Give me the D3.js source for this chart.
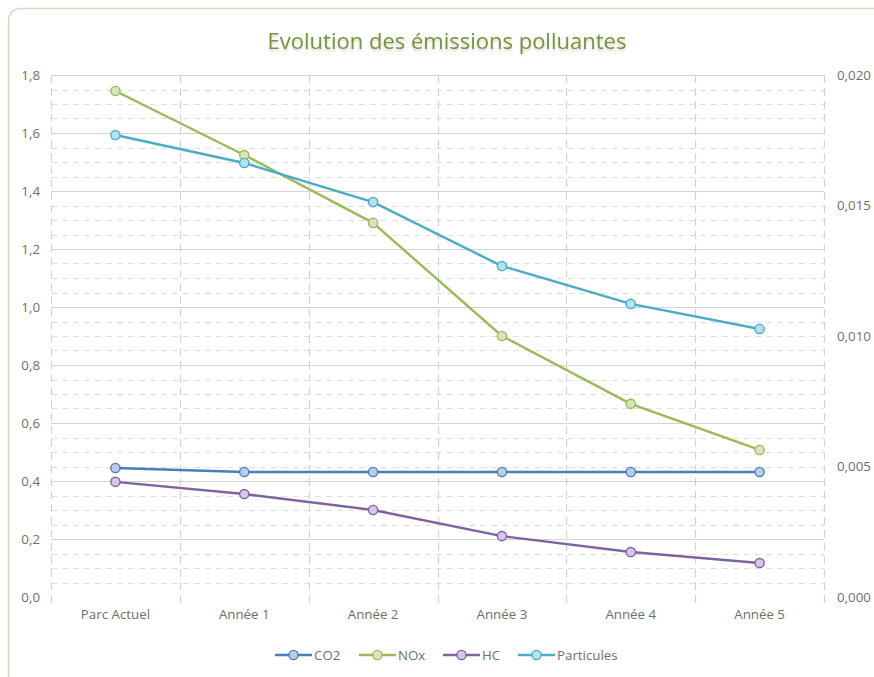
<!DOCTYPE html>
<html>
<head>
<meta charset="utf-8">
<script src="https://cdn.jsdelivr.net/npm/d3@7"></script>
<style>
  html, body { margin: 0; padding: 0; background: #ffffff; }
  svg { display: block; }
</style>
</head>
<body>
<script>
// ---------- data ----------
const categories = ["Parc Actuel", "Année 1", "Année 2", "Année 3", "Année 4", "Année 5"];
const co2 = [0.445, 0.431, 0.431, 0.431, 0.431, 0.431];
const nox = [1.745, 1.524, 1.290, 0.900, 0.666, 0.507];
const hc = [0.397, 0.355, 0.300, 0.210, 0.155, 0.117];
const particules = [0.0177, 0.01663, 0.01513, 0.01268, 0.01123, 0.01027]; // secondary axis
const leftTicks = [0, 0.2, 0.4, 0.6, 0.8, 1.0, 1.2, 1.4, 1.6, 1.8];
const rightTicks = [0, 0.005, 0.010, 0.015, 0.020];
const title = "Evolution des émissions polluantes";

const series = [
  { name: "CO2", values: co2, axis: "left", stroke: "#4A7EBB", fill: "#B9CDE5" },
  { name: "NOx", values: nox, axis: "left", stroke: "#9BBB59", fill: "#D7E4BD" },
  { name: "HC", values: hc, axis: "left", stroke: "#7F63A1", fill: "#D4C8E4" },
  { name: "Particules", values: particules, axis: "right", stroke: "#4BACC6", fill: "#B7E1EC" }
];

// ---------- layout ----------
const W = 874, H = 677;
const plot = { left: 51, right: 824, top: 75, bottom: 597 };
const font = "'Open Sans', 'DejaVu Sans', sans-serif";
const labelSize = 13.3;
const labelColor = "#6E6E6E";

const svg = d3.select("body").append("svg").attr("width", W).attr("height", H);

// outer frame
svg.append("rect")
  .attr("x", 8.5).attr("y", 8.5).attr("width", 880).attr("height", 680)
  .attr("rx", 12).attr("ry", 12)
  .attr("fill", "#ffffff").attr("stroke", "#D6D9BE").attr("stroke-width", 1.5);

// title with soft reflection
const defs = svg.append("defs");
const filt = defs.append("filter").attr("id", "glow").attr("x", "-10%").attr("y", "-30%").attr("width", "120%").attr("height", "160%");
filt.append("feGaussianBlur").attr("in", "SourceAlpha").attr("stdDeviation", 1.2).attr("result", "b");
filt.append("feOffset").attr("in", "b").attr("dy", 1.5).attr("result", "o");
filt.append("feComponentTransfer").attr("in", "o").attr("result", "oa")
  .append("feFuncA").attr("type", "linear").attr("slope", 0.18);
const fm = filt.append("feMerge");
fm.append("feMergeNode").attr("in", "oa");
fm.append("feMergeNode").attr("in", "SourceGraphic");

svg.append("text")
  .attr("x", 447).attr("y", 49)
  .attr("text-anchor", "middle")
  .attr("font-family", font).attr("font-size", 22)
  .attr("fill", "#77933C")
  .attr("filter", "url(#glow)")
  .text(title);

// ---------- scales ----------
const x = d3.scaleBand().domain(categories).range([plot.left, plot.right]).paddingInner(0).paddingOuter(0);
const yL = d3.scaleLinear().domain([0, 1.8]).range([plot.bottom, plot.top]);
const yR = d3.scaleLinear().domain([0, 0.02]).range([plot.bottom, plot.top]);
const cx = d => x(d) + x.bandwidth() / 2;

// ---------- grid ----------
const grid = svg.append("g");
// minor dashed horizontals every 0.05
const minor = d3.range(0, 1.8001, 0.05).filter(v => Math.abs(Math.round(v / 0.2) * 0.2 - v) > 1e-6);
grid.selectAll("line.minor").data(minor).join("line")
  .attr("x1", plot.left).attr("x2", plot.right)
  .attr("y1", d => Math.round(yL(d)) + 0.5).attr("y2", d => Math.round(yL(d)) + 0.5)
  .attr("stroke", "#E0E0E0").attr("stroke-width", 1).attr("stroke-dasharray", "6,5");

// vertical dashed lines at category boundaries (incl. edges)
const bounds = categories.map(c => x(c)).concat([plot.right]);
grid.selectAll("line.v").data(bounds).join("line")
  .attr("x1", d => Math.round(d) + 0.5).attr("x2", d => Math.round(d) + 0.5)
  .attr("y1", plot.top).attr("y2", plot.bottom + 7)
  .attr("stroke", "#D2D2D2").attr("stroke-width", 1.2).attr("stroke-dasharray", "8,5");

// major solid horizontals
grid.selectAll("line.major").data(leftTicks.filter(v => v > 0)).join("line")
  .attr("x1", plot.left).attr("x2", plot.right)
  .attr("y1", d => Math.round(yL(d)) + 0.5).attr("y2", d => Math.round(yL(d)) + 0.5)
  .attr("stroke", "#D4D4D4").attr("stroke-width", 1.2);

// ---------- axes ----------
const fmt = d3.formatLocale({ decimal: ",", thousands: " ", grouping: [3], currency: ["", "€"] });
const fL = fmt.format(".1f"), fR = fmt.format(".3f");

const axL = d3.axisLeft(yL).tickValues(leftTicks).tickFormat(fL).tickSize(0).tickPadding(11);
const gL = svg.append("g").attr("transform", `translate(${plot.left},0)`).call(axL);
gL.select(".domain").remove();
gL.selectAll("text").attr("font-family", font).attr("font-size", labelSize).attr("fill", labelColor);

const axR = d3.axisRight(yR).tickValues(rightTicks).tickFormat(fR).tickSize(0).tickPadding(13);
const gR = svg.append("g").attr("transform", `translate(${plot.right},0)`).call(axR);
gR.select(".domain").remove();
gR.selectAll("text").attr("font-family", font).attr("font-size", labelSize).attr("fill", labelColor);

const axB = d3.axisBottom(x).tickSize(0).tickPadding(13);
const gB = svg.append("g").attr("transform", `translate(0,${plot.bottom})`).call(axB);
gB.select(".domain").remove();
gB.selectAll("text").attr("font-family", font).attr("font-size", labelSize).attr("fill", labelColor);

// ---------- series ----------
const lines = svg.append("g");
series.forEach(s => {
  const y = s.axis === "left" ? yL : yR;
  const pts = categories.map((c, i) => [cx(c), y(s.values[i])]);
  lines.append("path")
    .attr("d", d3.line()(pts))
    .attr("fill", "none").attr("stroke", s.stroke).attr("stroke-width", 2.4)
    .attr("stroke-linejoin", "round");
  lines.selectAll(null).data(pts).join("circle")
    .attr("cx", d => d[0]).attr("cy", d => d[1]).attr("r", 4.6)
    .attr("fill", s.fill).attr("stroke", s.stroke).attr("stroke-width", 1.4);
});

// ---------- legend ----------
const legendX = [275, 359, 443, 518];
const leg = svg.append("g").attr("transform", "translate(0,655)");
series.forEach((s, i) => {
  const g = leg.append("g").attr("transform", `translate(${legendX[i]},0)`);
  g.append("line").attr("x1", 0).attr("x2", 37).attr("y1", 0).attr("y2", 0)
    .attr("stroke", s.stroke).attr("stroke-width", 2.4);
  g.append("circle").attr("cx", 18.5).attr("cy", 0).attr("r", 4.6)
    .attr("fill", s.fill).attr("stroke", s.stroke).attr("stroke-width", 1.4);
  g.append("text").attr("x", 39).attr("y", 0).attr("dy", "0.35em")
    .attr("font-family", font).attr("font-size", labelSize).attr("fill", labelColor)
    .text(s.name);
});
</script>
</body>
</html>
